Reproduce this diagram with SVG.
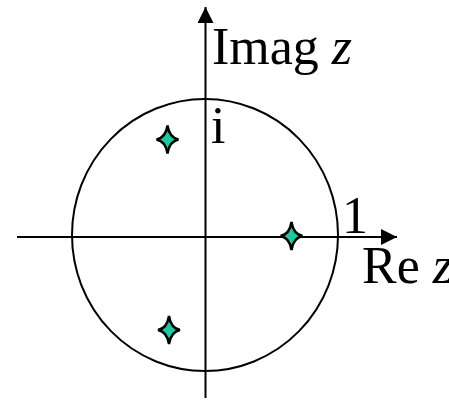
<svg xmlns="http://www.w3.org/2000/svg" width="449" height="400" viewBox="0 0 449 400">
<style>
.ax{stroke:#000;stroke-width:2;fill:none}
.t{font-family:"Liberation Serif","Times New Roman",serif;font-size:52px;fill:#000}
.star{fill:#1fc8a0;stroke:#000;stroke-width:2.5;stroke-linejoin:miter}
</style>
<defs>
<marker id="ah" viewBox="0 0 16 16" refX="16" refY="8" markerWidth="16" markerHeight="16" markerUnits="userSpaceOnUse" orient="auto">
<path d="M0,0 L16,8 L0,16 Z" fill="#000"/>
</marker>
<path id="st" d="M0,-14 Q1.8,-1.8 11,0 Q1.8,1.8 0,14 Q-1.8,1.8 -11,0 Q-1.8,-1.8 0,-14 Z"/>
</defs>
<g id="connectors">
<line class="ax" x1="17" y1="237" x2="397" y2="237" marker-end="url(#ah)"/>
<line class="ax" x1="205.5" y1="398" x2="205.5" y2="7" marker-end="url(#ah)"/>
</g>
<g id="unit-circle"><ellipse class="ax" cx="205" cy="235" rx="133" ry="136"/></g>
<g id="root1"><use href="#st" class="star" x="167.5" y="139.5"/></g>
<g id="root2"><use href="#st" class="star" x="291.5" y="236"/></g>
<g id="root3"><use href="#st" class="star" x="169" y="330"/></g>
<g id="labels">
<text class="t" x="212" y="64">Imag <tspan font-style="italic">z</tspan></text>
<text class="t" x="211" y="143">i</text>
<text class="t" x="342" y="233">1</text>
<text class="t" x="362" y="283">Re <tspan font-style="italic">z</tspan></text>
</g>
</svg>
